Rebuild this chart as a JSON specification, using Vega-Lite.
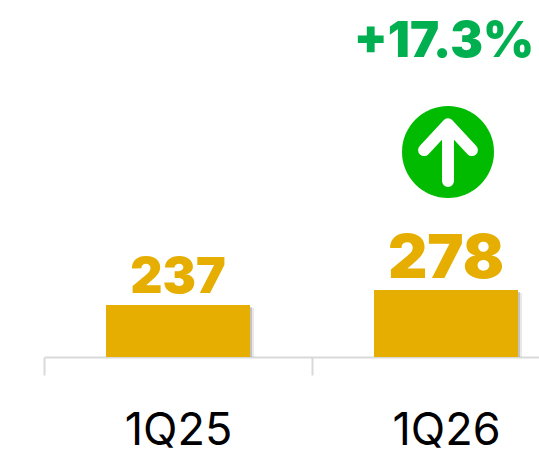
{"$schema":"https://vega.github.io/schema/vega-lite/v6.json","autosize":"none","width":495,"height":357,"padding":{"left":44,"top":0,"right":0,"bottom":98},"background":"white","view":{"stroke":null},"config":{"font":"Inter"},"datasets":{"bars":[{"period":"1Q25","value":237},{"period":"1Q26","value":278}],"change":[{"period":"1Q26","label":"+17.3%"}]},"data":{"name":"bars"},"encoding":{"x":{"field":"period","type":"nominal","scale":{"type":"band","domain":["1Q25","1Q26"],"range":[0,536],"paddingInner":0,"paddingOuter":0},"axis":{"title":null,"labelAngle":0,"labelFont":"Inter","labelFontSize":45,"labelFontWeight":400,"labelColor":"#000000","labelPadding":55,"labelBaseline":"middle","domainColor":"#D9D9D9","domainWidth":2,"tickColor":"#D9D9D9","tickWidth":2,"tickSize":18,"tickBand":"extent","grid":false}}},"layer":[{"mark":{"type":"bar","color":"#6e6e6e","opacity":0.15,"width":144,"xOffset":4,"yOffset":3},"encoding":{"y":{"field":"value","type":"quantitative","stack":null,"scale":{"domain":[95,1070],"range":[357,0]},"axis":null},"y2":{"datum":95}}},{"mark":{"type":"bar","color":"#6e6e6e","opacity":0.3,"width":144,"xOffset":2,"yOffset":2},"encoding":{"y":{"field":"value","type":"quantitative","stack":null,"scale":{"domain":[95,1070],"range":[357,0]},"axis":null},"y2":{"datum":95}}},{"mark":{"type":"bar","color":"#E5AE00","width":144},"encoding":{"y":{"field":"value","type":"quantitative","stack":null,"scale":{"domain":[95,1070],"range":[357,0]},"axis":null},"y2":{"datum":95}}},{"mark":{"type":"text","font":"Inter","fontWeight":900,"color":"#E5AE00","baseline":"alphabetic","align":"center","dy":-12},"encoding":{"y":{"field":"value","type":"quantitative","stack":null,"scale":{"domain":[95,1070],"range":[357,0]},"axis":null},"text":{"field":"value","type":"quantitative"},"size":{"field":"value","type":"quantitative","legend":null,"scale":{"domain":[237,278],"range":[50,61]}}}},{"data":{"name":"change"},"mark":{"type":"text","font":"Inter","fontWeight":900,"fontSize":49,"color":"#00B050","baseline":"middle","align":"center","xOffset":-2},"encoding":{"y":{"datum":955,"type":"quantitative","scale":{"domain":[95,1070],"range":[357,0]},"axis":null},"text":{"field":"label"}}},{"data":{"name":"change"},"mark":{"type":"point","shape":"circle","filled":true,"color":"#00BB00","opacity":1,"size":8464,"xOffset":2},"encoding":{"y":{"datum":655,"type":"quantitative","scale":{"domain":[95,1070],"range":[357,0]},"axis":null}}},{"data":{"name":"change"},"mark":{"type":"point","shape":"M0,0.63L0,-0.6M-0.52,-0.04L0,-0.6L0.52,-0.04","filled":false,"fill":null,"stroke":"#FFFFFF","opacity":1,"strokeWidth":12,"strokeCap":"round","strokeJoin":"round","size":8464,"xOffset":2},"encoding":{"y":{"datum":655,"type":"quantitative","scale":{"domain":[95,1070],"range":[357,0]},"axis":null}}}]}
